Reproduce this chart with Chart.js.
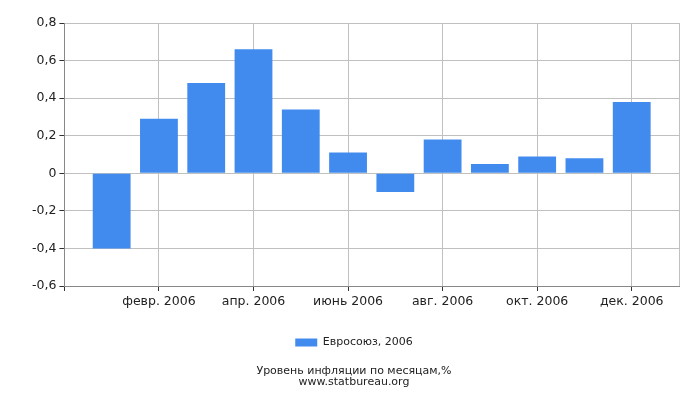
<!DOCTYPE html>
<html>
<head>
<meta charset="utf-8">
<script src="https://cdn.jsdelivr.net/npm/chart.js@4"></script>
<style>
  html, body { margin: 0; padding: 0; background: #fff; }
  #wrap { width: 700px; height: 400px; }
</style>
</head>
<body>
<div id="wrap"><canvas id="chart" width="700" height="400"></canvas></div>
<script>
// months, padded with an empty slot at each end like the original
const months = ['', 'янв. 2006', 'февр. 2006', 'март 2006', 'апр. 2006', 'май 2006', 'июнь 2006',
    'июль 2006', 'авг. 2006', 'сент. 2006', 'окт. 2006', 'нояб. 2006', 'дек. 2006', ''];
const inflation = [null, -0.40, 0.29, 0.48, 0.66, 0.34, 0.11, -0.10, 0.18, 0.05, 0.09, 0.08, 0.38, null];
const seriesName = 'Евросоюз, 2006';
const titleLines = ['Уровень инфляции по месяцам,%', 'www.statbureau.org'];

const font = "'DejaVu Sans', sans-serif";
const isShown = i => i > 0 && i < 13 && i % 2 === 0;

const ctx = document.getElementById('chart').getContext('2d');
const chart = new Chart(ctx, {
    type: 'bar',
    data: {
        labels: months,
        datasets: [{
            label: seriesName,
            data: inflation,
            backgroundColor: '#428bee',
            borderWidth: 0,
            categoryPercentage: 1,
            barPercentage: 0.8
        }]
    },
    options: {
        responsive: false,
        animation: false,
        devicePixelRatio: 1,
        layout: { padding: { top: 23, right: 21, left: 29, bottom: 12 } },
        scales: {
            x: {
                offset: false,
                grid: {
                    offset: false,
                    color: c => (isShown(c.index) || c.index === 13) ? '#c0c0c0' : 'rgba(0,0,0,0)',
                    tickColor: c => isShown(c.index) || c.index === 0 ? '#333' : 'rgba(0,0,0,0)',
                    tickLength: 5
                },
                border: { color: '#888' },
                ticks: {
                    autoSkip: false,
                    maxRotation: 0,
                    color: '#222',
                    font: { family: font, size: 12.5 },
                    callback: (v, i) => isShown(i) ? months[i] : ''
                }
            },
            y: {
                min: -0.6,
                max: 0.8,
                grid: { color: '#c0c0c0', tickColor: '#333', tickLength: 5 },
                border: { color: '#888' },
                ticks: {
                    stepSize: 0.2,
                    color: '#222',
                    font: { family: font, size: 12.5 },
                    callback: v => Math.abs(v) < 1e-9 ? '0' : v.toFixed(1).replace('.', ',')
                }
            }
        },
        plugins: {
            legend: {
                position: 'bottom',
                labels: {
                    boxWidth: 22,
                    boxHeight: 8,
                    color: '#222',
                    font: { family: font, size: 11 },
                    padding: 25
                }
            },
            title: {
                display: true,
                position: 'bottom',
                text: titleLines,
                color: '#222',
                font: { family: font, size: 11, weight: 'normal', lineHeight: 1.0 },
                padding: { top: 8, bottom: 0 }
            },
            tooltip: { enabled: false }
        }
    }
});
</script>
</body>
</html>
